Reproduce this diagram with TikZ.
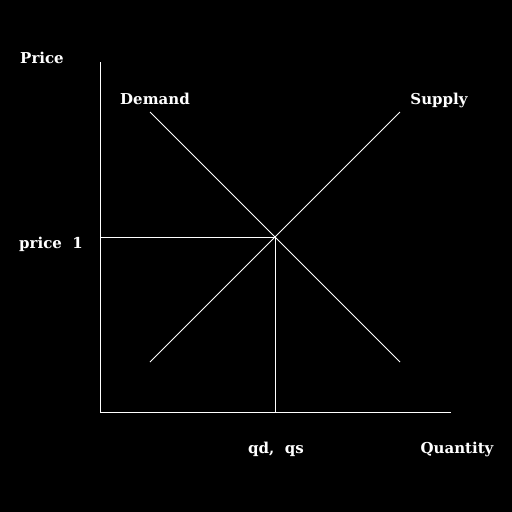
\documentclass[tikz,border=0pt]{standalone}
\usepackage{fontspec}
\setmainfont{DejaVu Serif}
\begin{document}
\begin{tikzpicture}[x=1pt,y=-1pt,
  ln/.style={white,line width=0.8pt},
  lbl/.style={text=white,font=\bfseries\fontsize{15}{17}\selectfont,anchor=base,inner sep=0pt}]
\fill[black] (0,0) rectangle (512,512);
\useasboundingbox (0,0) rectangle (512,512);
\coordinate (top) at (100,62);
\coordinate (o) at (100,412);
\coordinate (xe) at (451,412);
\coordinate (d1) at (150,112);
\coordinate (d2) at (400,362);
\coordinate (s1) at (150,362);
\coordinate (s2) at (400,112);
\coordinate (e) at (275,237);
\coordinate (py) at (100,237);
\coordinate (qx) at (275,412);
\draw[ln] (top) -- (o) -- (xe);
\draw[ln] (d1) -- (d2);
\draw[ln] (s1) -- (s2);
\draw[ln] (py) -- (e) -- (qx);
\node[lbl] (lp) at (42,63) {Price};
\node[lbl] (ld) at (155,104) {Demand};
\node[lbl] (ls) at (439,104) {Supply};
\node[lbl] (lp1) at (51,248) {price\ \ 1};
\node[lbl] (lq) at (276,453) {qd,\ \ qs};
\node[lbl] (lqt) at (457,453) {Quantity};
\end{tikzpicture}
\end{document}
